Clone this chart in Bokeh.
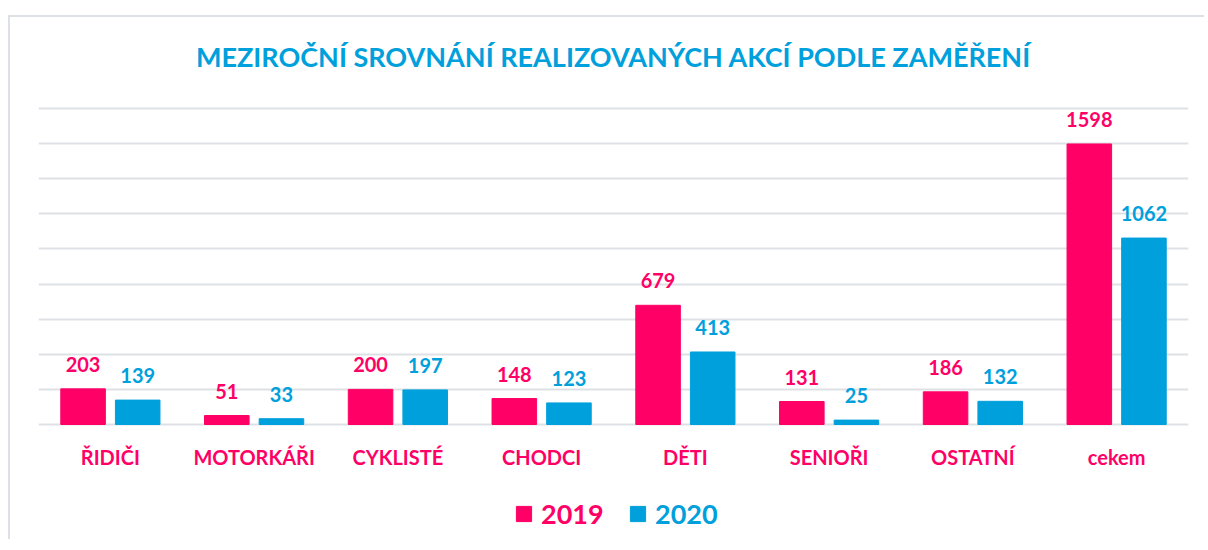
from bokeh.plotting import figure
from bokeh.models import (ColumnDataSource, FactorRange, Range1d, LabelSet, Label,
                          Legend, LegendItem, FixedTicker)
from bokeh.transform import dodge
from bokeh.core.properties import value
from bokeh.embed import file_html
from bokeh.resources import INLINE

# ---- data ----
categories = ["ŘIDIČI", "MOTORKÁŘI", "CYKLISTÉ", "CHODCI", "DĚTI", "SENIOŘI", "OSTATNÍ", "cekem"]
values_2019 = [203, 51, 200, 148, 679, 131, 186, 1598]
values_2020 = [139, 33, 197, 123, 413, 25, 132, 1062]
series_names = ["2019", "2020"]
title_text = "MEZIROČNÍ SROVNÁNÍ REALIZOVANÝCH AKCÍ PODLE ZAMĚŘENÍ"

PINK = "#FF0066"
BLUE = "#00A0DC"
GRID = "#DDE1E6"
FONT = "Lato"

Y_MAX = 1800
GRID_H = 316              # pixels between 0 and Y_MAX
px = Y_MAX / GRID_H       # data units per pixel
CANVAS_TOP = 17           # page y of canvas top
CANVAS_H = 524
BASE_Y = 424              # page y of the zero line
TOP_Y = BASE_Y - GRID_H   # page y of the Y_MAX line

y_start = -(CANVAS_TOP + CANVAS_H - BASE_Y) * px
y_end = Y_MAX + (TOP_Y - CANVAS_TOP) * px
label_gap = 17 * px

src = ColumnDataSource(dict(
    cat=categories,
    v19=values_2019,
    v20=values_2020,
    t19=[str(v) for v in values_2019],
    t20=[str(v) for v in values_2020],
    y19=[v + label_gap for v in values_2019],
    y20=[v + label_gap for v in values_2020],
    ycat=[-32 * px] * len(categories),
))

p = figure(x_range=FactorRange(*categories, range_padding=0),
           y_range=Range1d(y_start, y_end),
           width=1196, height=CANVAS_H,
           output_backend="svg", toolbar_location=None, tools="")
p.min_border = 0
p.min_border_left = 28
p.min_border_right = 18
p.outline_line_color = None
p.background_fill_color = "white"
p.border_fill_color = "white"
p.margin = (15, 0, 0, 8)
p.styles = {"border-top": "2px solid #DDE1E6", "border-left": "2px solid #DDE1E6"}

W = 0.31
OFF = 0.19
r19 = p.vbar(x=dodge("cat", -OFF, range=p.x_range), top="v19", width=W, source=src,
             fill_color=PINK, line_color=PINK)
r20 = p.vbar(x=dodge("cat", OFF, range=p.x_range), top="v20", width=W, source=src,
             fill_color=BLUE, line_color=BLUE)

# value labels
for col_y, col_t, off, color in [("y19", "t19", -OFF, PINK), ("y20", "t20", OFF, BLUE)]:
    p.add_layout(LabelSet(x=dodge("cat", off, range=p.x_range), y=col_y, text=col_t, source=src,
                          text_align="center", text_baseline="alphabetic",
                          text_font=value(FONT), text_font_style="bold",
                          text_font_size="20px", text_color=color))

# category labels
p.add_layout(LabelSet(x="cat", y="ycat", text="cat", source=src,
                      text_align="center", text_baseline="middle",
                      text_font=value(FONT), text_font_style="bold",
                      text_font_size="20px", text_color=PINK))

# axes / grid
p.xaxis.visible = False
p.yaxis.visible = False
p.ygrid.ticker = FixedTicker(ticks=list(range(0, Y_MAX + 1, 200)))
p.ygrid.grid_line_color = GRID
p.ygrid.grid_line_width = 2
p.xgrid.grid_line_color = None

# title
p.add_layout(Label(x=len(categories) / 2, y=Y_MAX + 52 * px, text=title_text,
                   text_align="center", text_baseline="middle",
                   text_font=FONT, text_font_style="bold", text_font_size="27px",
                   text_color=BLUE))

# legends (one per series, so each label keeps its colour)
for r, name, color, xloc in [(r19, series_names[0], PINK, 476), (r20, series_names[1], BLUE, 590)]:
    p.add_layout(Legend(items=[LegendItem(label=name, renderers=[r])],
                        location=(xloc, 11), orientation="horizontal",
                        glyph_width=19, glyph_height=19, label_height=20,
                        label_standoff=8, padding=0, margin=0, spacing=0,
                        label_text_font=FONT, label_text_font_style="bold",
                        label_text_font_size="27px", label_text_color=color,
                        background_fill_alpha=0, border_line_alpha=0))

open("out.html", "w").write(file_html(p, INLINE))
